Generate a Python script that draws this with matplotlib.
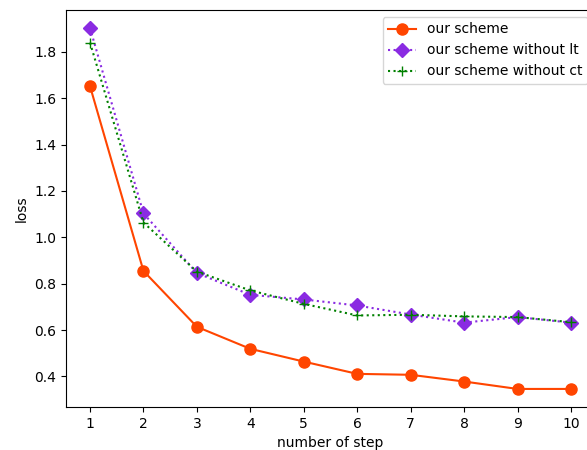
import matplotlib.pyplot as plt

steps = [1, 2, 3, 4, 5, 6, 7, 8, 9, 10]
loss_scheme = [1.652, 0.855, 0.614, 0.519, 0.464, 0.411, 0.407, 0.378, 0.346, 0.346]
loss_no_lt = [1.903, 1.103, 0.846, 0.752, 0.732, 0.706, 0.667, 0.632, 0.656, 0.632]
loss_no_ct = [1.840, 1.064, 0.852, 0.771, 0.713, 0.663, 0.666, 0.659, 0.656, 0.634]

fig = plt.figure(figsize=(5.87, 4.5), dpi=100)
ax = fig.add_axes([0.1124, 0.0956, 0.9012, 0.8822])

ax.plot(steps, loss_scheme, color='orangered', marker='o', markersize=8,
        linestyle='-', label='our scheme')
ax.plot(steps, loss_no_lt, color='blueviolet', marker='D', markersize=7,
        linestyle=':', label='our scheme without lt')
ax.plot(steps, loss_no_ct, color='green', marker='+', markersize=7,
        linestyle=':', label='our scheme without ct')

ax.set_xticks(steps)
ax.set_xlabel('number of step')
ax.set_ylabel('loss')
ax.legend(loc='upper right')

fig.savefig('out.png', dpi=100)
